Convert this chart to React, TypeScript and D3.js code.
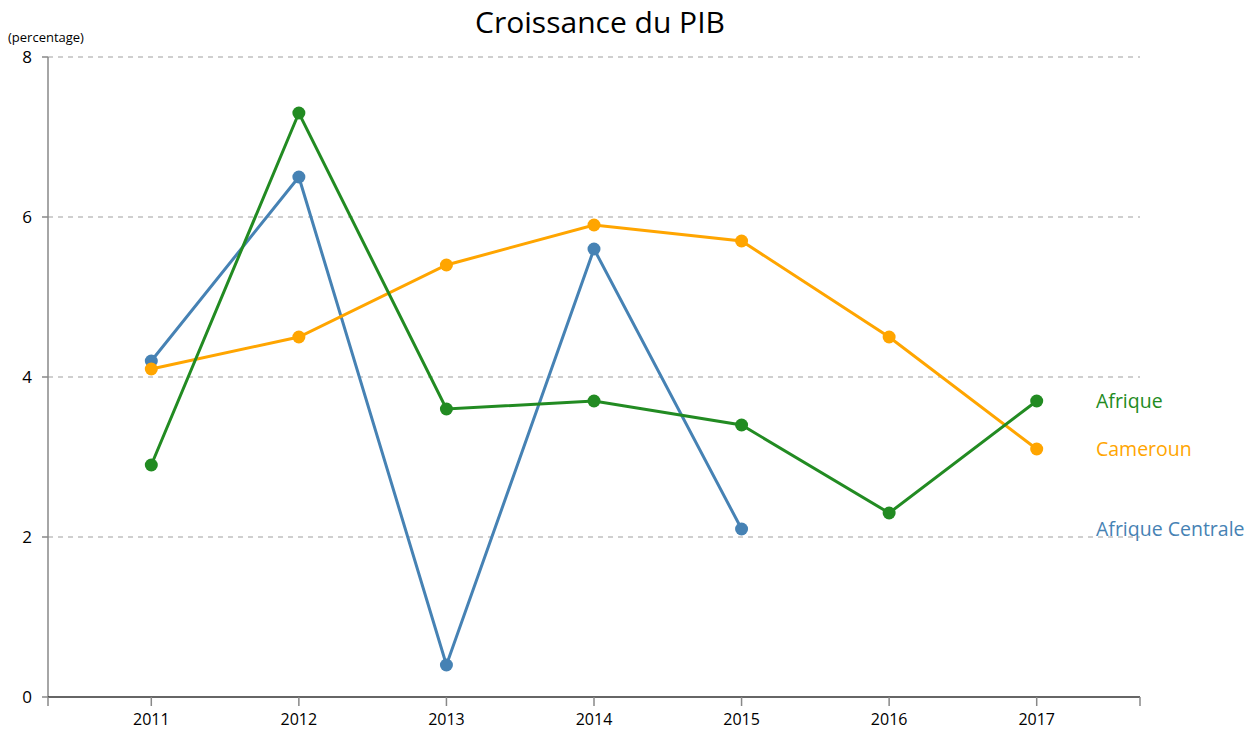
import React from "react";
import * as d3 from "d3";

const years = ["2011", "2012", "2013", "2014", "2015", "2016", "2017"];
const afrique = [2.9, 7.3, 3.6, 3.7, 3.4, 2.3, 3.7];
const cameroun = [4.1, 4.5, 5.4, 5.9, 5.7, 4.5, 3.1];
const afriqueCentrale = [4.2, 6.5, 0.4, 5.6, 2.1];
const yTicks = [0, 2, 4, 6, 8];

const seriesList = [
  { name: "Afrique Centrale", values: afriqueCentrale, color: "#4682b4" },
  { name: "Cameroun", values: cameroun, color: "#ffa500" },
  { name: "Afrique", values: afrique, color: "#228b22" },
];

export default function App() {
  const W = 1254, H = 733;
  const left = 48, right = 1140, top = 57, bottom = 697;
  const x = d3.scalePoint<string>().domain(years).range([left, right]).padding(0.7);
  const y = d3.scaleLinear().domain([0, 8]).range([bottom, top]);
  const font = "'Open Sans', 'Noto Sans', sans-serif";
  const line = d3
    .line<number>()
    .x((_, i) => x(years[i]) as number)
    .y((d) => y(d));

  return (
    <svg width={W} height={H} style={{ position: "absolute", left: 0, top: 0, fontFamily: font }}>
      <text x={600} y={33} textAnchor="middle" fontSize={30} fill="#000">
        Croissance du PIB
      </text>
      <text x={8} y={42} fontSize={13} fill="#000">(percentage)</text>
      {yTicks.filter((t) => t > 0).map((t) => (
        <line key={"g" + t} x1={left} x2={right} y1={y(t)} y2={y(t)} stroke="#a0a0a0" strokeDasharray="5,5" strokeWidth={1.2} />
      ))}
      <line x1={left} x2={left} y1={top} y2={bottom} stroke="#888" strokeWidth={1.5} />
      {yTicks.map((t) => (
        <g key={"y" + t}>
          <line x1={left - 6} x2={left} y1={y(t)} y2={y(t)} stroke="#888" strokeWidth={1.5} />
          <text x={left - 16} y={y(t)} dy="0.35em" textAnchor="end" fontSize={17} fill="#000">
            {t}
          </text>
        </g>
      ))}
      <line x1={left} x2={right} y1={bottom} y2={bottom} stroke="#333" strokeWidth={1.5} />
      {[left, right].map((v) => (
        <line key={"o" + v} x1={v} x2={v} y1={bottom} y2={bottom + 9} stroke="#888" strokeWidth={1.5} />
      ))}
      {years.map((yr) => (
        <g key={yr}>
          <line x1={x(yr)} x2={x(yr)} y1={bottom} y2={bottom + 9} stroke="#888" strokeWidth={1.5} />
          <text x={x(yr)} y={bottom + 28} textAnchor="middle" fontSize={16} fill="#000">
            {yr}
          </text>
        </g>
      ))}
      {seriesList.map((s) => (
        <g key={s.name}>
          <path d={line(s.values) || ""} fill="none" stroke={s.color} strokeWidth={3} />
          {s.values.map((v, i) => (
            <circle key={i} cx={x(years[i])} cy={y(v)} r={6.5} fill={s.color} />
          ))}
          <text x={1096} y={y(s.values[s.values.length - 1])} dy="0.35em" fontSize={19.5} fill={s.color}>
            {s.name}
          </text>
        </g>
      ))}
    </svg>
  );
}
